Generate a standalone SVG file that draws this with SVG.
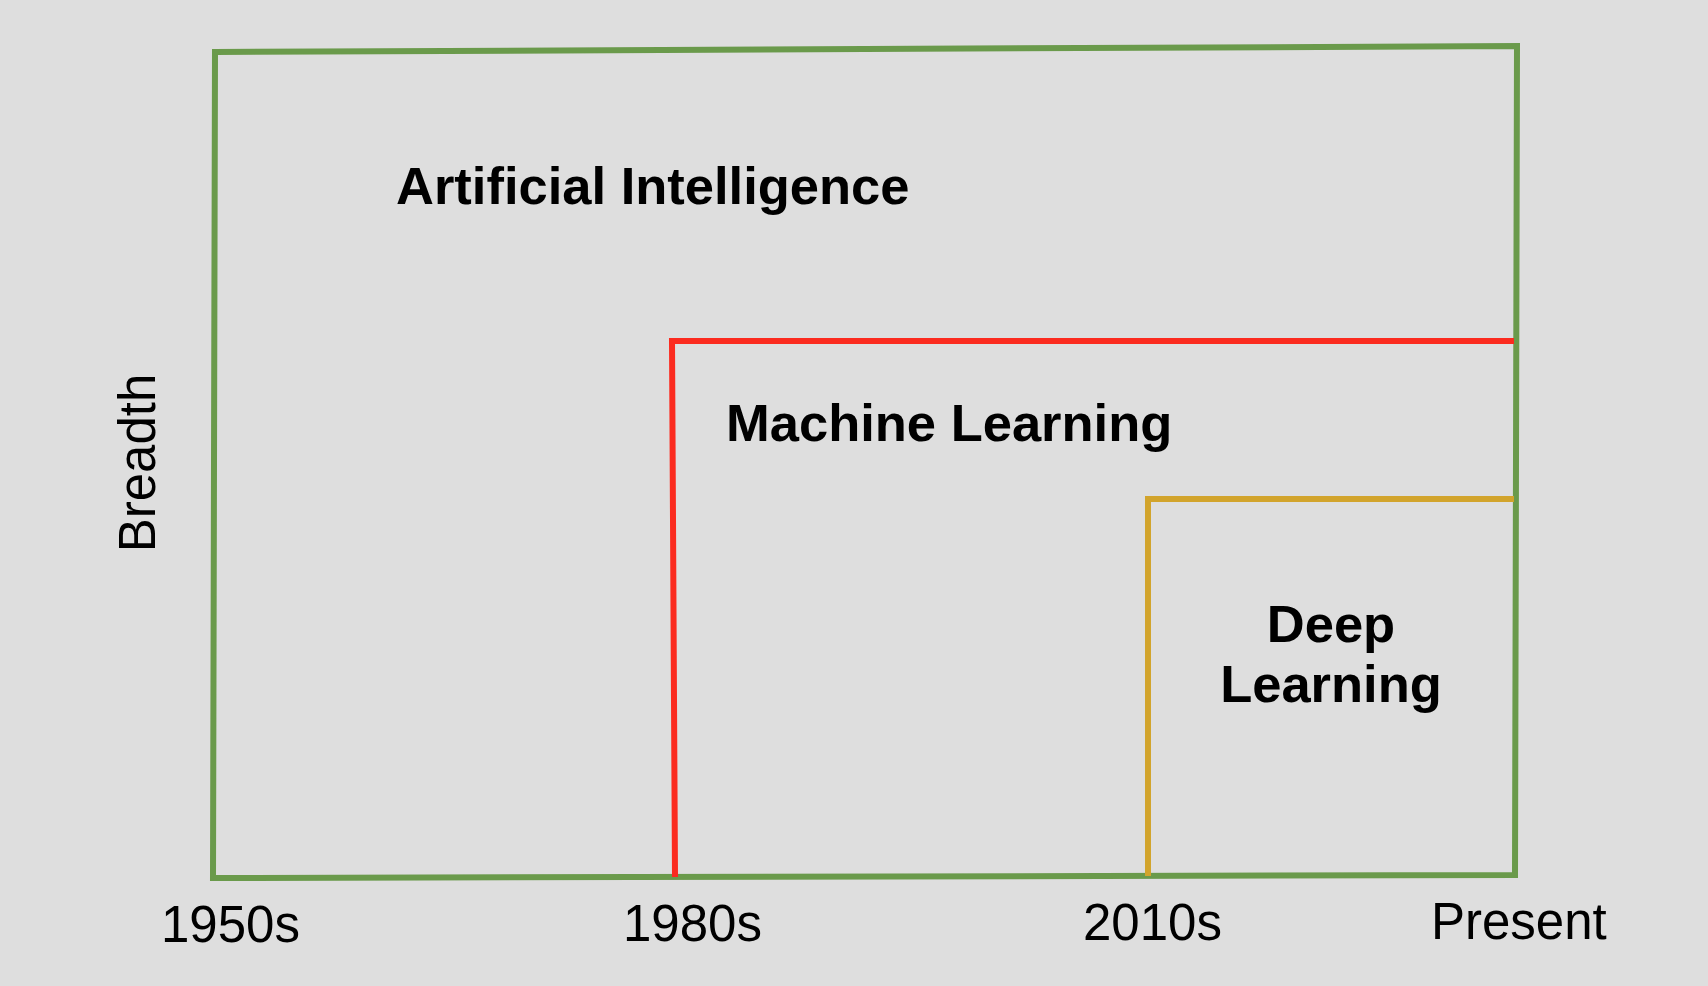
<svg xmlns="http://www.w3.org/2000/svg" width="1708" height="986" viewBox="0 0 1708 986">
<style>
.lbl{font-family:"Liberation Sans",Arial,sans-serif;font-weight:bold;font-size:52.5px;fill:#000}
.ax{font-family:"Liberation Sans",Arial,sans-serif;font-size:51px;fill:#000}
.ln{fill:none;stroke-width:6;stroke-linejoin:miter}
</style>
<rect width="1708" height="986" fill="#dedede"/>
<g id="connectors">
</g>
<g id="ai">
<path class="ln" d="M215 52 L1517 46 L1515 875 L213 878 Z" stroke="#6a9a4b"/>
<text class="lbl" x="396" y="204">Artificial Intelligence</text>
</g>
<g id="ml">
<path class="ln" d="M675 877 L672 341 L1514 341" stroke="#fb2b1f"/>
<text class="lbl" x="726" y="441">Machine Learning</text>
</g>
<g id="dl">
<path class="ln" d="M1148 876 L1148 499 L1514 499" stroke="#d2a42c"/>
<text class="lbl" x="1331" y="642" text-anchor="middle">Deep</text>
<text class="lbl" x="1331" y="702" text-anchor="middle">Learning</text>
</g>
<g id="axis">
<text class="ax" x="161" y="942">1950s</text>
<text class="ax" x="623" y="941">1980s</text>
<text class="ax" x="1083" y="940">2010s</text>
<text class="ax" x="1431" y="939">Present</text>
<text class="ax" transform="translate(155,463) rotate(-90)" text-anchor="middle">Breadth</text>
</g>
</svg>
